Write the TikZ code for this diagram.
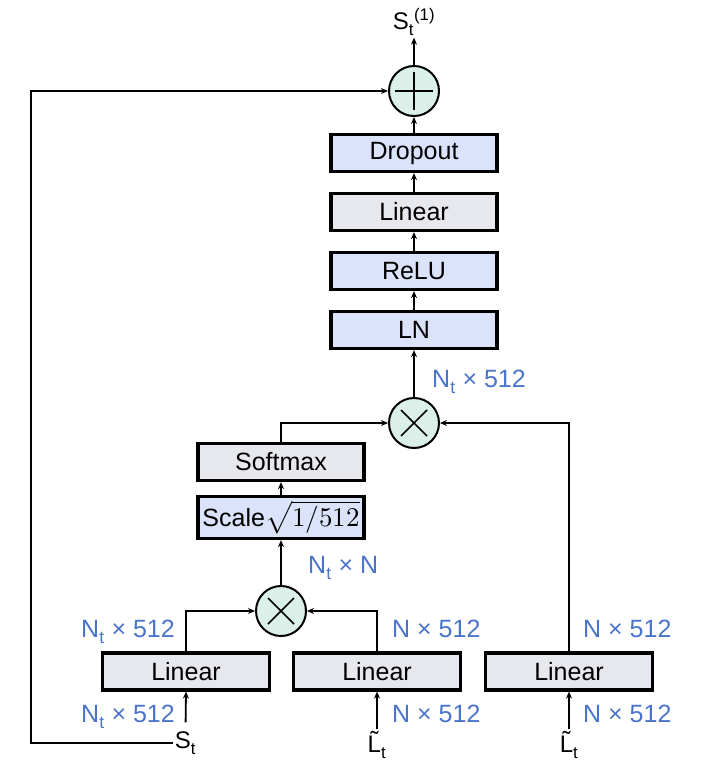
\documentclass[tikz,border=0pt]{standalone}
\usepackage{fontspec}
\usepackage{unicode-math}
\setmainfont{Liberation Sans}
\setmathfont{Latin Modern Math}
\usetikzlibrary{arrows.meta}
\definecolor{bluebox}{HTML}{DAE3F9}
\definecolor{graybox}{HTML}{E7E8ED}
\definecolor{opfill}{HTML}{DCF0EA}
\definecolor{dimblue}{HTML}{4A74CA}
\begin{document}
\begin{tikzpicture}[x=1pt,y=-1pt,
  >={Stealth[length=7pt,width=6pt]},
  conn/.style={line width=1.8pt,->},
  box/.style={draw,line width=3.2pt,inner sep=0pt,minimum width=166pt,minimum height=37pt,font=\fontsize{25}{29}\selectfont},
  bbox/.style={box,fill=bluebox},
  gbox/.style={box,fill=graybox},
  op/.style={circle,draw,line width=2pt,fill=opfill,minimum size=50pt,inner sep=0pt},
  plusop/.style={op,path picture={
     \draw[line width=1.6pt] ([xshift=-19pt]path picture bounding box.center) -- ([xshift=19pt]path picture bounding box.center);
     \draw[line width=1.6pt] ([yshift=-19pt]path picture bounding box.center) -- ([yshift=19pt]path picture bounding box.center);}},
  timesop/.style={op,path picture={
     \draw[line width=1.6pt] ([shift={(-13pt,-13pt)}]path picture bounding box.center) -- ([shift={(13pt,13pt)}]path picture bounding box.center);
     \draw[line width=1.6pt] ([shift={(-13pt,13pt)}]path picture bounding box.center) -- ([shift={(13pt,-13pt)}]path picture bounding box.center);}},
  dimlbl/.style={text=dimblue,font=\fontsize{25}{29}\selectfont,inner sep=0pt,anchor=base west},
  lbl/.style={font=\fontsize{24}{28}\selectfont,inner sep=2pt}
]
\useasboundingbox (0,0) rectangle (712,781);

% top chain
\node[plusop] (plus) at (414,91) {};
\node[lbl] (out) at (414,22) {S\textsubscript{t}\textsuperscript{(1)}};
\node[bbox] (dropout) at (414,153) {Dropout};
\node[gbox] (linear1) at (414,212) {Linear};
\node[bbox] (relu) at (414,271) {ReLU};
\node[bbox] (ln) at (414,330) {LN};
\node[timesop] (times1) at (414,423) {};

% attention part
\node[gbox] (softmax) at (281,462) {Softmax};
\node[bbox,minimum height=42pt] (scale) at (281,517.5) {Scale{\fontsize{27}{31}\selectfont$\sqrt{1/512}$}};
\node[timesop] (times2) at (281,611) {};

\node[gbox,minimum width=167pt] (linA) at (186,671.5) {Linear};
\node[gbox,minimum width=167pt] (linB) at (377,671.5) {Linear};
\node[gbox,minimum width=167pt] (linC) at (569,671.5) {Linear};

\node[lbl] (St) at (185.5,743) {S\textsubscript{t}};
\node[lbl] (Lt1) at (377,745) {\~{L}\textsubscript{t}};
\node[lbl] (Lt2) at (569,745) {\~{L}\textsubscript{t}};

\coordinate (loopx) at (31,400);

% connectors
\draw[conn] (plus) -- (out);
\draw[conn] (dropout) -- (plus);
\draw[conn] (linear1) -- (dropout);
\draw[conn] (relu) -- (linear1);
\draw[conn] (ln) -- (relu);
\draw[conn] (times1) -- (ln);
\draw[conn] (softmax.north) |- (times1.west);
\draw[conn] (scale) -- (softmax);
\draw[conn] (times2) -- (scale);
\draw[conn] (linA.north) |- (times2.west);
\draw[conn] (linB.north) |- (times2.east);
\draw[conn] (linC.north) |- (times1.east);
\draw[conn,shorten <=7pt] (St.north) -- (linA.south);
\draw[conn] (Lt1) -- (linB);
\draw[conn] (Lt2) -- (linC);
\draw[conn] (St.west) -| (loopx) |- (plus.west);

% dimension labels
\node[dimlbl] (d0) at (432,387) {N\textsubscript{t} × 512};
\node[dimlbl] (d1) at (308,573) {N\textsubscript{t} × N};
\node[dimlbl] (d2) at (81,637) {N\textsubscript{t} × 512};
\node[dimlbl] (d3) at (81,722) {N\textsubscript{t} × 512};
\node[dimlbl] (d4) at (392,637) {N × 512};
\node[dimlbl] (d5) at (392,722) {N × 512};
\node[dimlbl] (d6) at (583,637) {N × 512};
\node[dimlbl] (d7) at (583,722) {N × 512};
\end{tikzpicture}
\end{document}
